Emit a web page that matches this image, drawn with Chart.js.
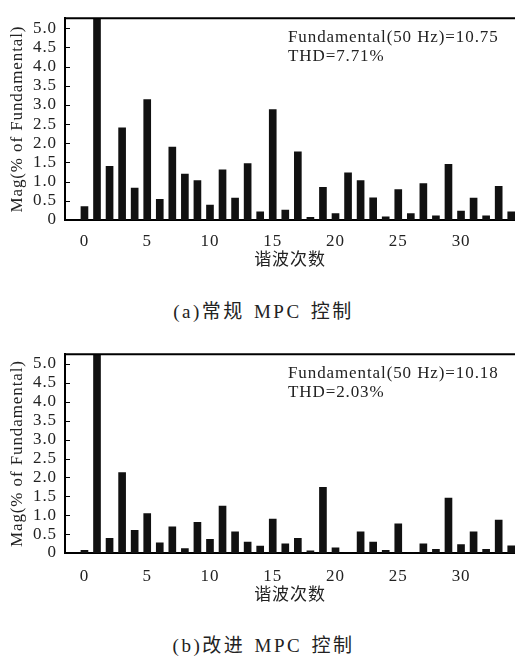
<!DOCTYPE html>
<html>
<head>
<meta charset="utf-8">
<script src="https://cdn.jsdelivr.net/npm/chart.js@4.4.0/dist/chart.umd.min.js"></script>
<style>
  body { margin: 0; background: #fff; width: 515px; height: 657px; position: relative; overflow: hidden; }
  .box { position: absolute; left: 0; width: 515px; }
  .cap { position: absolute; left: 6px; width: 515px; text-align: center; color: #222;
         font: 19px "Liberation Serif", "Noto Sans CJK SC", serif; letter-spacing: 2.5px; word-spacing: 2px; }
</style>
</head>
<body>
<div class="box" style="top:0;height:270px"><canvas id="chartA"></canvas></div>
<div class="cap" style="top:296px">(a)常规 MPC 控制</div>
<div class="box" style="top:336px;height:269px"><canvas id="chartB"></canvas></div>
<div class="cap" style="top:630px">(b)改进 MPC 控制</div>
<script>
const harmonics = [0, 1, 2, 3, 4, 5, 6, 7, 8, 9, 10, 11, 12, 13, 14, 15, 16, 17, 18, 19, 20,
  21, 22, 23, 24, 25, 26, 27, 28, 29, 30, 31, 32, 33, 34];

// (a) conventional MPC
const magA = [0.35, 100, 1.40, 2.40, 0.83, 3.14, 0.54, 1.90, 1.20, 1.03, 0.39, 1.31, 0.57, 1.47,
  0.21, 2.88, 0.26, 1.78, 0.07, 0.85, 0.17, 1.23, 1.03, 0.58, 0.08, 0.79, 0.17, 0.95, 0.11, 1.45,
  0.23, 0.57, 0.11, 0.88, 0.21];
// (b) improved MPC
const magB = [0.07, 100, 0.39, 2.13, 0.60, 1.04, 0.27, 0.69, 0.12, 0.81, 0.36, 1.24, 0.56, 0.29,
  0.18, 0.90, 0.24, 0.39, 0.06, 1.74, 0.14, 0, 0.56, 0.29, 0.07, 0.77, 0, 0.24, 0.10, 1.45,
  0.22, 0.56, 0.10, 0.87, 0.19];

const infoA = ['Fundamental(50 Hz)=10.75', 'THD=7.71%'];
const infoB = ['Fundamental(50 Hz)=10.18', 'THD=2.03%'];

const xTicks = [0, 5, 10, 15, 20, 25, 30];
const yTicks = [0, 0.5, 1, 1.5, 2, 2.5, 3, 3.5, 4, 4.5, 5];

const SERIF = '"Liberation Serif", "Times New Roman", serif';
const INK = '#222';

// top border, inward y ticks and the info text
const framePlugin = {
  id: 'frame',
  beforeDraw(chart) {
    chart.ctx.letterSpacing = '0.9px';
  },
  afterDatasetsDraw(chart, args, opts) {
    const { ctx, chartArea: a, scales: { y } } = chart;
    ctx.save();
    ctx.strokeStyle = '#000';
    ctx.lineWidth = 2;
    ctx.beginPath();
    ctx.moveTo(a.left - 1, a.top);
    ctx.lineTo(a.right, a.top);
    ctx.stroke();

    ctx.lineWidth = 1;
    ctx.beginPath();
    y.ticks.forEach(t => {
      const py = Math.round(y.getPixelForValue(t.value)) + 0.5;
      ctx.moveTo(a.left, py);
      ctx.lineTo(a.left + 5, py);
    });
    ctx.stroke();

    ctx.fillStyle = INK;
    ctx.font = '17px ' + SERIF;
    ctx.letterSpacing = '0.9px';
    ctx.textBaseline = 'middle';
    opts.lines.forEach((s, i) => ctx.fillText(s, a.left + 223, a.top + 19 + i * 19));
    ctx.restore();
  }
};

function makeChart(id, values, info, xHeight, xPad) {
  const ctx = document.getElementById(id).getContext('2d');
  return new Chart(ctx, {
    type: 'bar',
    data: {
      datasets: [{
        data: harmonics.map((h, i) => ({ x: h, y: values[i] })),
        backgroundColor: '#111',
        borderWidth: 0,
        barThickness: 7
      }]
    },
    options: {
      responsive: true,
      maintainAspectRatio: false,
      animation: false,
      layout: { padding: { top: 8, left: 0, right: 0, bottom: 0 } },
      plugins: {
        legend: { display: false },
        tooltip: { enabled: false },
        frame: { lines: info }
      },
      scales: {
        x: {
          type: 'linear',
          offset: false,
          min: -1.55,
          max: 34.3,
          afterBuildTicks: s => { s.ticks = xTicks.map(v => ({ value: v })); },
          afterFit: s => { s.height = xHeight; },
          grid: { display: false, drawTicks: false, offset: false },
          border: { color: '#000', width: 2 },
          ticks: { autoSkip: false, maxRotation: 0, padding: xPad, color: INK,
                   font: { family: SERIF, size: 17 } },
          title: { display: true, text: '谐波次数', color: INK,
                   font: { family: '"Noto Sans CJK SC"', size: 17 },
                   padding: { top: 0, bottom: 1 } }
        },
        y: {
          min: 0,
          max: 5.26,
          afterBuildTicks: s => { s.ticks = yTicks.map(v => ({ value: v })); },
          afterFit: s => { s.width = 65; },
          grid: { display: false, drawTicks: false },
          border: { color: '#000', width: 2 },
          ticks: { autoSkip: false, padding: 8, color: INK,
                   font: { family: SERIF, size: 17 },
                   callback: v => v === 0 ? '0' : v.toFixed(1) },
          title: { display: true, text: 'Mag(% of Fundamental)', color: INK,
                   font: { family: SERIF, size: 17 },
                   padding: { top: 7, bottom: 0 } }
        }
      }
    },
    plugins: [framePlugin]
  });
}

makeChart('chartA', magA, infoA, 50, 11);
makeChart('chartB', magB, infoB, 52, 13);
</script>
</body>
</html>
